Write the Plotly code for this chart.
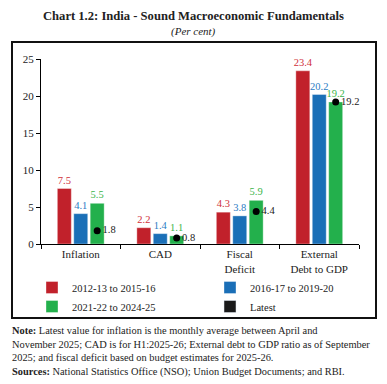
import plotly.graph_objects as go

categories = ["Inflation", "CAD", "Fiscal<br>Deficit", "External<br>Debt to GDP"]
series_names = ["2012-13 to 2015-16", "2016-17 to 2019-20", "2021-22 to 2024-25"]
vals_2012 = [7.5, 2.2, 4.3, 23.4]
vals_2016 = [4.1, 1.4, 3.8, 20.2]
vals_2021 = [5.5, 1.1, 5.9, 19.2]
latest = [1.8, 0.8, 4.4, 19.2]
y_ticks = [0, 5, 10, 15, 20, 25]

bar_colors = ["#c1212b", "#1a6fb7", "#23b04c"]
label_colors = ["#d0303a", "#2c7cc4", "#3ab54a"]
legend_ids = ["legend", "legend2", "legend"]
FONT = "Liberation Serif"

fig = go.Figure()
all_vals = [vals_2012, vals_2016, vals_2021]
for i, (name, vals) in enumerate(zip(series_names, all_vals)):
    fig.add_trace(go.Bar(
        x=categories, y=vals, name=name, offsetgroup=str(i), legend=legend_ids[i],
        marker=dict(color=bar_colors[i], line=dict(width=0.6, color="rgba(255,255,255,0.6)")),
    ))
for i, vals in enumerate(all_vals):
    # value labels above the bars
    fig.add_trace(go.Scatter(
        x=categories, y=vals, mode="markers+text", offsetgroup=str(i),
        marker=dict(size=2, opacity=0, color=bar_colors[i]),
        text=[f"{v:.1f}" for v in vals], textposition="top center",
        textfont=dict(color=label_colors[i], size=10.5, family=FONT),
        showlegend=False, cliponaxis=False, hoverinfo="skip",
    ))

fig.add_trace(go.Scatter(
    x=categories, y=latest, mode="markers+text", offsetgroup="2",
    marker=dict(color="black", size=7, symbol="circle"),
    text=[f"{v:.1f}" for v in latest], textposition="middle right",
    textfont=dict(color="#222", size=10.5, family=FONT),
    showlegend=False, cliponaxis=False,
))
# legend entry for "Latest"
fig.add_trace(go.Bar(x=[None], y=[None], name="Latest", offsetgroup="2", legend="legend2",
                     marker=dict(color="#1a1a1a")))

leg_common = dict(orientation="v", yanchor="top", xanchor="left", y=(244 - 273) / 185,
                  font=dict(size=10.5, family=FONT, color="#222"), itemwidth=30,
                  tracegroupgap=0, bgcolor="rgba(0,0,0,0)", traceorder="normal")

fig.update_layout(
    width=387, height=384,
    margin=dict(l=41, r=28, t=59, b=140, autoexpand=False),
    paper_bgcolor="white", plot_bgcolor="white",
    barmode="group", bargap=0.38, bargroupgap=0.15,
    scattermode="group",
    font=dict(family=FONT, color="#222", size=11),
    showlegend=True,
    legend=dict(x=(32 - 41) / 318, **leg_common),
    legend2=dict(x=(210 - 41) / 318, **leg_common),
    title=dict(text="<b>Chart 1.2: India - Sound Macroeconomic Fundamentals</b>",
               x=0.5, xref="container", xanchor="center", y=1 - 16 / 384, yanchor="middle",
               font=dict(size=12.6, family=FONT, color="#222")),
)

fig.update_xaxes(showline=True, linecolor="black", linewidth=1, ticks="outside",
                 tickson="boundaries", ticklen=4, tickcolor="black",
                 tickfont=dict(size=11, family=FONT, color="#222"), showgrid=False)
fig.update_yaxes(range=[0, 25], tickvals=y_ticks, showline=True, linecolor="black", linewidth=1,
                 ticks="outside", ticklen=4, tickcolor="black", showgrid=False, zeroline=False,
                 tickfont=dict(size=11, family=FONT, color="#222"))

fig.add_annotation(text="<i>(Per cent)</i>", xref="paper", yref="paper",
                   x=(193.5 - 41) / 318, y=(244 - 32) / 185, yanchor="middle", showarrow=False,
                   font=dict(size=11, family=FONT, color="#222"))

note = ("<b>Note:</b> Latest value for inflation is the monthly average between April and<br>"
        "November 2025; CAD is for H1:2025-26; External debt to GDP ratio as of September<br>"
        "2025; and fiscal deficit based on budget estimates for 2025-26.<br>"
        "<b>Sources:</b> National Statistics Office (NSO); Union Budget Documents; and RBI.")
fig.add_annotation(text=note, xref="paper", yref="paper", x=(10 - 41) / 318, xanchor="left",
                   y=(244 - 323) / 185, yanchor="top", align="left", showarrow=False,
                   font=dict(size=10.4, family=FONT, color="#222"))

fig.add_shape(type="rect", xref="paper", yref="paper",
              x0=(12 - 41) / 318, x1=(376 - 41) / 318, y0=(244 - 318) / 185, y1=(244 - 42) / 185,
              line=dict(color="#111", width=2))

fig.write_html("out.html", config={"displayModeBar": False},
               post_script="document.body.style.margin='0';")
